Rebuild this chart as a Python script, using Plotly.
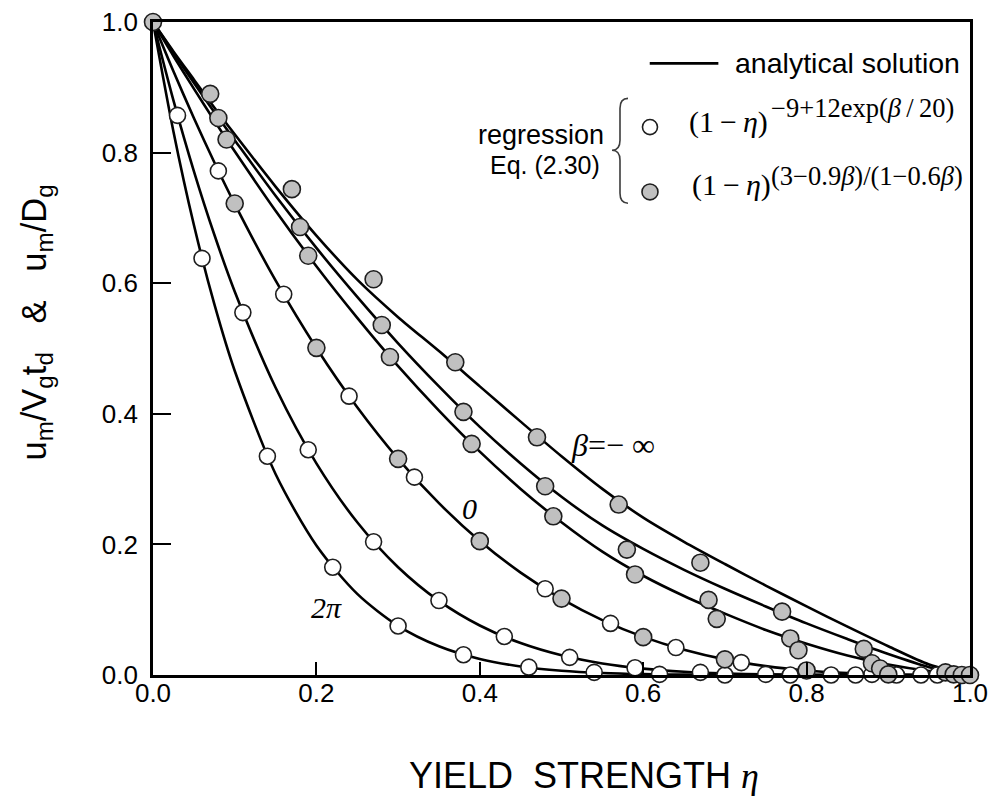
import plotly.graph_objects as go

# ---------------- data ----------------
eta_curve = [0, 0.025, 0.05, 0.075, 0.10, 0.15, 0.20, 0.25, 0.30, 0.35, 0.40, 0.45,
             0.50, 0.55, 0.60, 0.65, 0.70, 0.75, 0.80, 0.85, 0.90, 0.95, 1.00]
an_minf = [1.0, 0.955, 0.912, 0.869, 0.828, 0.748, 0.673, 0.6055, 0.548, 0.496, 0.442, 0.388,
           0.335, 0.285, 0.241, 0.204, 0.170, 0.137, 0.105, 0.074, 0.044, 0.016, 0.0]
an_b2 = [1.0, 0.953, 0.907, 0.862, 0.819, 0.734, 0.654, 0.579, 0.508, 0.442, 0.380, 0.324,
         0.273, 0.229, 0.193, 0.161, 0.132, 0.105, 0.079, 0.055, 0.032, 0.012, 0.0]
an_b3 = [1.0, 0.948, 0.898, 0.849, 0.802, 0.711, 0.626, 0.547, 0.473, 0.405, 0.342, 0.285,
         0.234, 0.189, 0.152, 0.121, 0.094, 0.069, 0.048, 0.030, 0.016, 0.006, 0.0]
an_0 = [1.0, 0.9246, 0.853, 0.7853, 0.7215, 0.6042, 0.5008, 0.4099, 0.331, 0.2631, 0.2052, 0.1567,
        0.1166, 0.0841, 0.0584, 0.0386, 0.0239, 0.0136, 0.0068, 0.0028, 0.0008, 0.0001, 0.0]
an_pi = [1.0, 0.880, 0.7718, 0.6746, 0.5874, 0.4402, 0.3241, 0.2339, 0.1651, 0.1135, 0.0758, 0.0489,
         0.0302, 0.0177, 0.0098, 0.0050, 0.0023, 0.0009, 0.0003, 0.0001, 0.0, 0.0, 0.0]
an_2pi = [1.0, 0.8323, 0.6894, 0.5682, 0.4659, 0.3079, 0.1984, 0.1242, 0.0753, 0.0440, 0.0246, 0.0131,
          0.0066, 0.0031, 0.0013, 0.0005, 0.0002, 0.0001, 0.0, 0.0, 0.0, 0.0, 0.0]

# regression points, open circles: (1-eta)^(-9+12exp(beta/20))
w0_x = [0.08, 0.16, 0.24, 0.32, 0.40, 0.48, 0.56, 0.64, 0.72, 0.80, 0.88, 0.96]
w0_y = [0.772, 0.583, 0.427, 0.303, 0.205, 0.132, 0.079, 0.042, 0.019, 0.007, 0.001, 0.0]
wpi_x = [0.03, 0.11, 0.19, 0.27, 0.35, 0.43, 0.51, 0.59, 0.67, 0.75, 0.83, 0.91, 0.99]
wpi_y = [0.857, 0.555, 0.345, 0.204, 0.114, 0.059, 0.027, 0.011, 0.004, 0.001, 0.0, 0.0, 0.0]
w2pi_x = [0.06, 0.14, 0.22, 0.30, 0.38, 0.46, 0.54, 0.62, 0.70, 0.78, 0.86, 0.94]
w2pi_y = [0.638, 0.335, 0.165, 0.075, 0.031, 0.012, 0.004, 0.001, 0.0, 0.0, 0.0, 0.0]

# regression points, grey circles: (1-eta)^((3-0.9beta)/(1-0.6beta))
gminf_x = [0.0, 0.07, 0.17, 0.27, 0.37, 0.47, 0.57, 0.67, 0.77, 0.87, 0.97]
gminf_y = [1.0, 0.890, 0.744, 0.606, 0.479, 0.364, 0.261, 0.172, 0.097, 0.040, 0.004]
gb2_x = [0.08, 0.18, 0.28, 0.38, 0.48, 0.58, 0.68, 0.78, 0.88, 0.98]
gb2_y = [0.853, 0.686, 0.536, 0.403, 0.289, 0.192, 0.115, 0.056, 0.018, 0.001]
gb3_x = [0.09, 0.19, 0.29, 0.39, 0.49, 0.59, 0.69, 0.79, 0.89, 0.99]
gb3_y = [0.820, 0.642, 0.487, 0.354, 0.243, 0.154, 0.086, 0.038, 0.010, 0.0]
g0_x = [0.10, 0.20, 0.30, 0.40, 0.50, 0.60, 0.70, 0.80, 0.90, 1.00]
g0_y = [0.722, 0.501, 0.331, 0.205, 0.117, 0.058, 0.024, 0.007, 0.001, 0.0]

tick_vals = [0.0, 0.2, 0.4, 0.6, 0.8, 1.0]
tick_text = ["0.0", "0.2", "0.4", "0.6", "0.8", "1.0"]

SANS = "Liberation Sans, Arial, sans-serif"
SERIF = "Liberation Serif, Times New Roman, serif"
GREY = "rgb(192,192,192)"
EDGE = "rgb(30,30,30)"

fig = go.Figure()

for ys in [an_minf, an_b2, an_b3, an_0, an_pi, an_2pi]:
    fig.add_trace(go.Scatter(x=eta_curve, y=ys, mode="lines",
                             line=dict(color="black", width=2.6, shape="spline", smoothing=0.8),
                             showlegend=False, hoverinfo="skip", cliponaxis=True))

for xs, ys in [(w0_x, w0_y), (wpi_x, wpi_y), (w2pi_x, w2pi_y)]:
    fig.add_trace(go.Scatter(x=xs, y=ys, mode="markers",
                             marker=dict(symbol="circle", size=16, color="white",
                                         line=dict(color=EDGE, width=1.6)),
                             showlegend=False, cliponaxis=False))

for xs, ys in [(gminf_x, gminf_y), (gb2_x, gb2_y), (gb3_x, gb3_y), (g0_x, g0_y)]:
    fig.add_trace(go.Scatter(x=xs, y=ys, mode="markers",
                             marker=dict(symbol="circle", size=17, color=GREY,
                                         line=dict(color=EDGE, width=1.6)),
                             showlegend=False, cliponaxis=False))

axis_common = dict(range=[0, 1], showgrid=False, zeroline=False, showline=True,
                   linecolor="black", linewidth=2.6, mirror=True, ticks="inside",
                   tickwidth=2, tickcolor="black", tickvals=tick_vals, ticktext=tick_text,
                   tickfont=dict(family=SANS, size=26, color="black"), automargin=False,
                   ticklabeloverflow="allow")

fig.update_xaxes(**axis_common, ticklen=13, ticklabelstandoff=-7)
fig.update_yaxes(**axis_common, ticklen=18, ticklabelstandoff=7)

shapes = [
    # legend line
    dict(type="line", xref="paper", yref="paper", x0=0.608, x1=0.692, y0=0.9365, y1=0.9365,
         line=dict(color="black", width=2.8)),
    # legend circles
    dict(type="circle", xref="paper", yref="paper", x0=0.6083 - 0.0092, x1=0.6083 + 0.0092,
         y0=0.8391 - 0.0115, y1=0.8391 + 0.0115, fillcolor="white", line=dict(color=EDGE, width=1.6)),
    dict(type="circle", xref="paper", yref="paper", x0=0.6083 - 0.0098, x1=0.6083 + 0.0098,
         y0=0.7398 - 0.0122, y1=0.7398 + 0.0122, fillcolor=GREY, line=dict(color=EDGE, width=1.6)),
    # curly brace
    dict(type="path", xref="paper", yref="paper",
         path="M 0.5814,0.883 Q 0.5716,0.883 0.5716,0.868 L 0.5716,0.819 Q 0.5716,0.8036 0.5618,0.8036 "
              "Q 0.5716,0.8036 0.5716,0.7883 L 0.5716,0.7378 Q 0.5716,0.7225 0.5814,0.7225",
         line=dict(color="rgb(60,60,60)", width=1.6)),
]

ann = []
def A(x, y, text, size, family=SANS, xanchor="center", yanchor="middle", angle=0):
    ann.append(dict(x=x, y=y, xref="paper", yref="paper", text=text, showarrow=False,
                    font=dict(family=family, size=size, color="black"),
                    xanchor=xanchor, yanchor=yanchor, textangle=angle))

A(0.710, 0.9365, "analytical solution", 28.5, xanchor="left")
A(0.554, 0.8265, "regression", 27, xanchor="right")
A(0.550, 0.7806, "Eq. (2.30)", 25, xanchor="right")
A(0.6536, 0.8463, "(1\u2009\u2212\u2009<i>η</i>)", 30, family=SERIF, xanchor="left")
A(0.7545, 0.869, "\u22129+12exp(<i>β</i>\u2009/\u200920)", 26.5, family=SERIF, xanchor="left")
A(0.6573, 0.750, "(1\u2009\u2212\u2009<i>η</i>)", 30, family=SERIF, xanchor="left")
A(0.7545, 0.7638, "(3\u22120.9<i>β</i>)/(1\u22120.6<i>β</i>)", 26.5, family=SERIF, xanchor="left")
A(0.563, 0.352, "<i>β</i>=\u2212 ∞", 32, family=SERIF)
A(0.387, 0.255, "<i>0</i>", 30, family=SERIF)
A(0.2118, 0.1032, "<i>2π</i>", 30, family=SERIF)
A(0.527, -0.1537, "YIELD\u00a0\u00a0STRENGTH <span style='font-family:Liberation Serif'><i>η</i></span>", 36)
A(-0.143, 0.540, "u<sub>m</sub>/V<sub>g</sub>t<sub>d</sub>\u00a0\u00a0\u00a0&amp;\u00a0\u00a0\u00a0u<sub>m</sub>/D<sub>g</sub>",
  34.5, angle=-90)

# the page has an 8 px body margin, so the figure is drawn 8 px in from the top-left corner
fig.update_layout(width=981, height=791, margin=dict(l=145, r=19, t=13.5, b=123.5, autoexpand=False),
                  paper_bgcolor="white", plot_bgcolor="white", shapes=shapes, annotations=ann,
                  showlegend=False)

fig.write_html("out.html")
